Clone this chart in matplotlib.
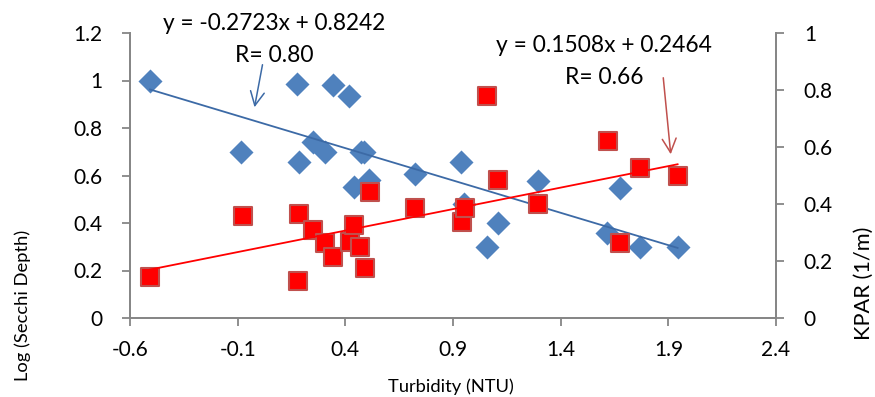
import matplotlib
matplotlib.use("Agg")
import matplotlib.pyplot as plt
import numpy as np

plt.rcParams['font.family'] = ['Lato', 'DejaVu Sans']

# Data: Log (Secchi Depth) vs Turbidity (left axis)
secchi_x = [-0.507, -0.084, 0.176, 0.185, 0.25, 0.306, 0.343, 0.418, 0.44, 0.473, 0.487,
            0.51, 0.724, 0.938, 0.95, 1.057, 1.111, 1.295, 1.615, 1.674, 1.767, 1.943]
secchi_y = [1.0, 0.70, 0.985, 0.655, 0.74, 0.70, 0.98, 0.935, 0.55, 0.70, 0.70,
            0.58, 0.606, 0.655, 0.48, 0.30, 0.40, 0.576, 0.357, 0.548, 0.30, 0.30]

# Data: KPAR vs Turbidity (right axis)
kpar_x = [-0.507, -0.076, 0.185, 0.179, 0.252, 0.306, 0.342, 0.422, 0.438, 0.466, 0.492,
          0.515, 0.724, 0.944, 0.957, 1.057, 1.111, 1.295, 1.62, 1.674, 1.767, 1.943]
kpar_y = [0.145, 0.357, 0.365, 0.13, 0.31, 0.263, 0.213, 0.268, 0.327, 0.249, 0.174,
          0.441, 0.386, 0.337, 0.386, 0.78, 0.484, 0.40, 0.62, 0.263, 0.527, 0.498]

# Trendlines
secchi_slope, secchi_icpt = -0.2723, 0.8242
kpar_slope, kpar_icpt = 0.1508, 0.2464

x_ticks = [-0.6, -0.1, 0.4, 0.9, 1.4, 1.9, 2.4]
left_ticks = [0, 0.2, 0.4, 0.6, 0.8, 1, 1.2]
right_ticks = [0, 0.2, 0.4, 0.6, 0.8, 1]

blue = '#4F81BD'
blue_line = '#3C6AA6'
red = '#FF0000'
red_edge = '#C0504D'
gray = '#868686'

W, H = 875, 397
fig = plt.figure(figsize=(8.75, 3.97), dpi=100)
ax = fig.add_axes([130/W, 1-318/H, (776-130)/W, (318-33)/H])
ax2 = ax.twinx()

ax.scatter(secchi_x, secchi_y, marker='D', s=150, color=blue, zorder=3, linewidths=0)
xs = np.array([min(secchi_x), max(secchi_x)])
ax.plot(xs, secchi_slope*xs + secchi_icpt, color=blue_line, lw=1.3, zorder=4)

ax2.scatter(kpar_x, kpar_y, marker='s', s=165, facecolor=red, edgecolor=red_edge, linewidths=1.5, zorder=3)
xk = np.array([min(kpar_x), max(kpar_x)])
ax2.plot(xk, kpar_slope*xk + kpar_icpt, color=red, lw=1.3, zorder=4)

ax.set_xlim(-0.6, 2.4)
ax.set_ylim(0, 1.2)
ax2.set_ylim(0, 1.0)
ax.set_xticks(x_ticks)
ax.set_xticklabels([f'{v:g}' for v in x_ticks])
ax.set_yticks(left_ticks)
ax.set_yticklabels([f'{v:g}' for v in left_ticks])
ax2.set_yticks(right_ticks)
ax2.set_yticklabels([f'{v:g}' for v in right_ticks])

for a in (ax, ax2):
    a.spines['top'].set_visible(False)
    for s in ('left', 'right', 'bottom'):
        a.spines[s].set_color(gray)
        a.spines[s].set_linewidth(1.3)
    a.tick_params(colors=gray, labelcolor='black', labelsize=15, length=6, width=1.3, direction='out')
ax.tick_params(axis='x', pad=10)
ax.tick_params(axis='y', pad=14)
ax2.tick_params(axis='y', pad=14)

renderer = fig.canvas.get_renderer()

def fitted_text(cx, cy, s, target, rotation=0, **kw):
    t = fig.text(cx/W, 1-cy/H, s, fontsize=10, rotation=rotation, ha='center', va='center', **kw)
    bb = t.get_window_extent(renderer)
    size = bb.height if rotation else bb.width
    t.set_fontsize(10*target/size)
    return t

fitted_text(451, 387, 'Turbidity (NTU)', 127)
fitted_text(23, 305, 'Log (Secchi Depth)', 151, rotation=90)
fitted_text(864, 283, 'KPAR (1/m)', 113, rotation=90)

# Annotations
fitted_text(274, 24, 'y = -0.2723x + 0.8242', 222)
fitted_text(274, 56, 'R= 0.80', 78)
fitted_text(604, 46, 'y = 0.1508x + 0.2464', 215)
fitted_text(604, 77, 'R= 0.66', 78)

fig.patches.append(matplotlib.patches.FancyArrowPatch(
    (263/W, 1-62/H), (254/W, 1-110/H), transform=fig.transFigure,
    arrowstyle='->,head_length=10,head_width=5', color=blue_line, lw=1.1))
fig.patches.append(matplotlib.patches.FancyArrowPatch(
    (663/W, 1-75/H), (671/W, 1-157/H), transform=fig.transFigure,
    arrowstyle='->,head_length=10,head_width=5', color=red_edge, lw=1.1))

fig.savefig('out.png', dpi=100)
